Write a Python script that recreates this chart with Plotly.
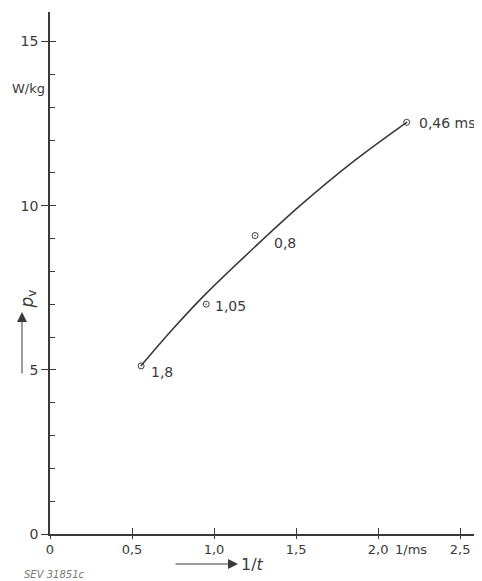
import plotly.graph_objects as go

# measured points: pulse duration t (ms) and loss p_v (W/kg)
t_ms = [1.8, 1.05, 0.8, 0.46]
p_v = [5.12, 7.0, 9.09, 12.54]
point_labels = ["1,8", "1,05", "0,8", "0,46 ms"]

# fitted curve through the measurements
curve_x = [0.556, 0.75, 0.951, 1.25, 1.524, 1.85, 2.174]
curve_y = [5.13, 6.25, 7.32, 8.75, 10.0, 11.35, 12.54]

x_ticks = [0, 0.5, 1.0, 1.5, 2.0, 2.5]
x_ticktext = ["0", "0,5", "1,0", "1,5", "2,0", "2,5"]
y_ticks = [0, 5, 10, 15]
y_ticktext = ["0", "5", "10", "15"]

inv_t = [1.0 / t for t in t_ms]

INK = "#3a3a3a"
FONT = "DejaVu Sans"

fig = go.Figure()
fig.add_trace(go.Scatter(x=curve_x, y=curve_y, mode="lines", line=dict(color=INK, width=1.6, shape="spline"),
                         hoverinfo="skip", showlegend=False))
fig.add_trace(go.Scatter(x=inv_t, y=p_v, mode="markers",
                         marker=dict(symbol="circle-open-dot", size=6, color=INK, line=dict(width=1)),
                         showlegend=False))
# overlay axes to make major ticks cross the axis lines
fig.add_trace(go.Scatter(x=[None], y=[None], xaxis="x2", yaxis="y2", showlegend=False))

label_shift = [(8, -6), (7, -2), (17, -7), (10, -1)]
for xv, yv, lab, (dx, dy) in zip(inv_t, p_v, point_labels, label_shift):
    fig.add_annotation(x=xv, y=yv, text=lab, showarrow=False, xanchor="left", yanchor="middle",
                       xshift=dx, yshift=dy, font=dict(family=FONT, size=14, color=INK))

fig.update_layout(
    width=474, height=573,
    margin=dict(l=42, r=3, t=4, b=47),
    paper_bgcolor="white", plot_bgcolor="white",
    xaxis=dict(range=[0, 2.615], tickvals=x_ticks, ticktext=x_ticktext, ticks="outside", ticklen=3,
               tickcolor=INK, tickwidth=1, showline=True, linecolor=INK, linewidth=1.6, showgrid=False,
               zeroline=False, tickfont=dict(family=FONT, size=13, color=INK)),
    yaxis=dict(range=[0, 15.9], tickvals=y_ticks, ticktext=y_ticktext, ticks="outside", ticklen=7,
               tickcolor=INK, tickwidth=1, showline=True, linecolor=INK, linewidth=1.6, showgrid=False,
               zeroline=False, tickfont=dict(family=FONT, size=14, color=INK),
               minor=dict(dtick=1, ticks="inside", ticklen=5, tickcolor=INK, tickwidth=1, showgrid=False)),
    xaxis2=dict(range=[0, 2.615], overlaying="x", tickvals=x_ticks[1:], ticks="inside", ticklen=6,
                tickcolor=INK, tickwidth=1, showticklabels=False, showgrid=False, zeroline=False, showline=False),
    yaxis2=dict(range=[0, 15.9], overlaying="y", tickvals=y_ticks[1:], ticks="inside", ticklen=6,
                tickcolor=INK, tickwidth=1, showticklabels=False, showgrid=False, zeroline=False, showline=False),
)

W_PLOT = 474 - 42 - 3
H_PLOT = 573 - 4 - 47

def px(xp):
    return (xp - 50) / W_PLOT

def py(yp):
    return (534 - yp) / H_PLOT

# unit labels
fig.add_annotation(x=2.2, y=0, xref="x", yref="y", text="1/ms", showarrow=False, yanchor="top", yshift=-6,
                   font=dict(family=FONT, size=13, color=INK))
fig.add_annotation(x=px(47), y=13.57, xref="paper", yref="y", text="W/kg", showarrow=False, xanchor="right",
                   font=dict(family=FONT, size=13, color=INK))

# axis titles with arrows
fig.add_annotation(x=px(238), y=py(564), xref="paper", yref="paper", text="", showarrow=True,
                   ax=-64, ay=0, arrowhead=2, arrowsize=2, arrowwidth=1, arrowcolor=INK)
fig.add_annotation(x=px(239), y=py(564), xref="paper", yref="paper", text="1/<i>t</i>", showarrow=False,
                   xanchor="left", yanchor="middle", font=dict(family=FONT, size=16, color=INK))
fig.add_annotation(x=px(22), y=py(312), xref="paper", yref="paper", text="", showarrow=True,
                   ax=0, ay=63, arrowhead=2, arrowsize=2, arrowwidth=1, arrowcolor=INK)
fig.add_annotation(x=px(14), y=py(299), xref="paper", yref="paper", text="<i>p</i><sub>v</sub>",
                   showarrow=False, textangle=-90, font=dict(family=FONT, size=17, color=INK))

fig.add_annotation(x=px(22), y=py(574), xref="paper", yref="paper", text="<i>SEV 31851c</i>", showarrow=False,
                   xanchor="left", yanchor="middle", font=dict(family=FONT, size=10, color="#777777"))

fig.write_html("out.html")
